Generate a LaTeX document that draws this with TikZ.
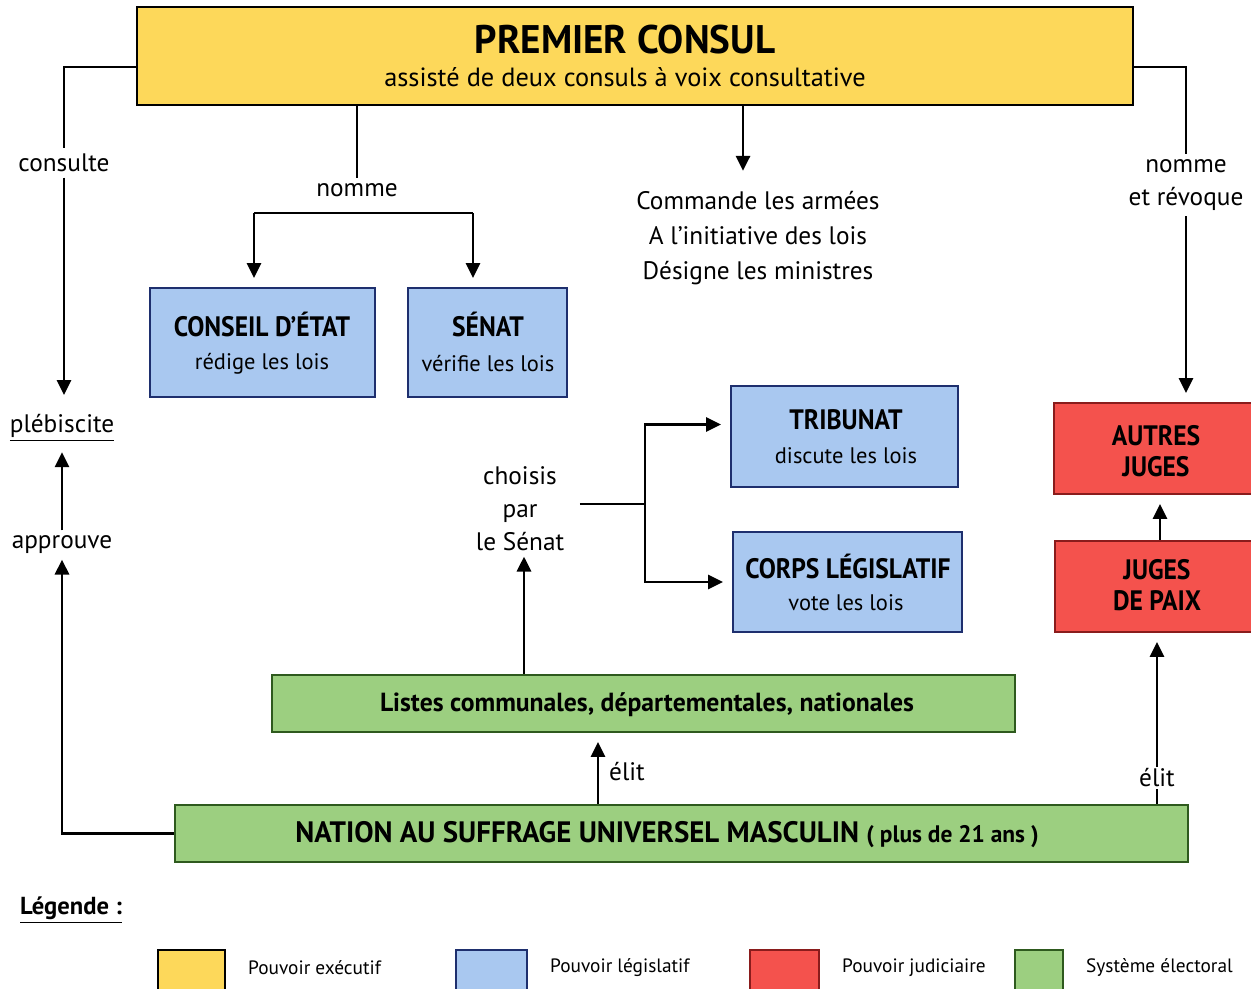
\documentclass[tikz,border=0pt]{standalone}
\usepackage{fontspec}
\setmainfont{PT Sans}
\newfontfamily\condb{PT Sans}[FakeStretch=0.91]
\newfontfamily\fullb{PT Sans}[FakeStretch=0.98]
\usetikzlibrary{arrows.meta,fit,calc}
\definecolor{yel}{HTML}{FDD85A}
\definecolor{blu}{HTML}{A9C8F0}
\definecolor{nav}{HTML}{1E2F6E}
\definecolor{rd}{HTML}{F4524D}
\definecolor{drd}{HTML}{8A1C1C}
\definecolor{grn}{HTML}{9CCF80}
\definecolor{dgr}{HTML}{2E5A1E}
\tikzset{
  box/.style={draw, line width=1.4pt, inner sep=0pt},
  exe/.style={box, fill=yel, draw=black},
  lgs/.style={box, fill=blu, draw=nav},
  jud/.style={box, fill=rd, draw=drd},
  ele/.style={box, fill=grn, draw=dgr},
  bt/.style={inner sep=0pt, align=center, font=\condb\bfseries\fontsize{16}{18}\selectfont},
  st/.style={inner sep=0pt, font=\fontsize{12.8}{15}\selectfont},
  lnk/.style={line width=1.6pt},
  arr/.style={line width=1.6pt, -{Triangle[length=8.5pt,width=8pt]}, shorten >=5pt},
  lbl/.style={inner sep=3pt, align=center, font=\fontsize{14.4}{18.7}\selectfont},
}
\begin{document}
\begin{tikzpicture}[x=0.02cm,y=-0.02cm]
\useasboundingbox (0,0) rectangle (1251,988);
\fill[white] (0,0) rectangle (1251,988);
% boxes
\node[exe, fit={(137,7) (1133,105)}] (pc) {};
\node[font=\fullb\bfseries\fontsize{22.7}{24}\selectfont] (pct) at (625,40) {PREMIER CONSUL};
\node[font=\fontsize{15}{17}\selectfont] (pcs) at (625,77) {assisté de deux consuls à voix consultative};
\node[lgs, fit={(150,288) (375,397)}] (ce) {};
\node[bt] (cet) at (262,324) {CONSEIL D’ÉTAT};
\node[st] (ces) at (262,364) {rédige les lois};
\node[lgs, fit={(408,288) (567,397)}] (sen) {};
\node[bt] (sent) at (488,324) {SÉNAT};
\node[st] (sens) at (488,364) {vérifie les lois};
\node[lgs, fit={(731,386) (958,487)}] (trib) {};
\node[bt] (tribt) at (846,420) {TRIBUNAT};
\node[st] (tribs) at (846,456) {discute les lois};
\node[lgs, fit={(733,532) (962,632)}] (corps) {};
\node[bt] (corpst) at (848,566) {CORPS LÉGISLATIF};
\node[st] (corpss) at (846,603) {vote les lois};
\node[jud, fit={(1054,403) (1262,494)}] (aj) {};
\node[bt] (ajt) at (1156,451) {AUTRES\\JUGES};
\node[jud, fit={(1055,541) (1262,632)}] (jp) {};
\node[bt] (jpt) at (1157,585) {JUGES\\DE PAIX};
\node[ele, fit={(272,675) (1015,732)}] (lis) {};
\node[font=\fullb\bfseries\fontsize{14.9}{18}\selectfont] (list) at (647,705) {Listes communales, départementales, nationales};
\node[ele, fit={(175,805) (1188,862)}] (nat) {};
\node[font=\fullb\bfseries\fontsize{16.8}{18}\selectfont] (natt) at (667,835) {NATION AU SUFFRAGE UNIVERSEL MASCULIN \fontsize{13.6}{16}\selectfont( plus de 21 ans )};
% labels
\node[lbl] (cons) at (64,163) {consulte};
\node[lbl] (nom) at (357,190) {nomme};
\node[lbl, font=\fontsize{14.4}{19.8}\selectfont] (cmd) at (758,238) {Commande les armées\\A l’initiative des lois\\Désigne les ministres};
\node[lbl] (nr) at (1186,185) {nomme\\et révoque};
\node[lbl, inner sep=6pt] (pleb) at (62,428) {\underline{plébiscite}};
\node[lbl] (app) at (62,545) {approuve};
\node[lbl] (cho) at (520,509) {choisis\\par\\le Sénat};
\node[lbl] (el1) at (627,772) {élit};
\node[lbl, inner sep=1pt] (el2) at (1157,778) {élit};
% connectors
\draw[lnk] ($(pc.west)+(0,11)$) -| (cons.north);
\draw[arr] (cons.south) -- (cons.south |- pleb.north);
\draw[lnk] (pc.south -| nom.north) -- (nom.north);
\coordinate (nl) at (254,213);
\coordinate (nr2) at (473,213);
\draw[lnk] (nl) -- (nr2);
\draw[arr] (nl) -- (nl |- ce.north);
\draw[arr] (nr2) -- (nr2 |- sen.north);
\draw[arr, shorten >=0pt] (pc.south -| 743,0) -- ($(cmd.north)+(-15,-15)$);
\draw[lnk] ($(pc.east)+(0,11)$) -| (nr.north);
\draw[arr] (nr.south) -- (nr.south |- aj.north);
\draw[arr, shorten >=0pt] (app.north) -- (pleb.south);
\draw[arr, shorten >=0pt] (nat.west) -| (app.south);
\draw[arr, shorten >=0pt] (lis.north -| 524,0) -- ($(cho.south)+(4,0)$);
\coordinate (br) at (645,504);
\draw[lnk] (cho.east |- br) ++(10,0) -- (br);
\draw[arr] (br) |- ($(trib.west)+(0,-12)$);
\draw[arr] (br) |- (corps.west);
\draw[arr] (nat.north -| 598,0) -- (lis.south -| 598,0);
\draw[lnk] (nat.north -| el2) -- (el2.south);
\draw[arr] (el2.north) -- (el2.north |- jp.south);
\draw[arr] (jp.north -| 1160,0) -- (aj.south -| 1160,0);
% legend
\node[font=\bfseries\fontsize{14}{16}\selectfont] (leg) at (71,910) {\underline{Légende :}};
\foreach \xa/\xb/\c/\d/\t/\n in {158/225/yel/black/Pouvoir exécutif/l1, 456/527/blu/nav/Pouvoir législatif/l2, 750/819/rd/drd/Pouvoir judiciaire/l3, 1015/1063/grn/dgr/Système électoral/l4}{
  \draw[line width=1.4pt, fill=\c, draw=\d] (\xa,950) rectangle (\xb,995);
  \node[anchor=west, font=\fontsize{11}{14}\selectfont] (\n) at (\xb+17,968) {\t};
}
\end{tikzpicture}
\end{document}
